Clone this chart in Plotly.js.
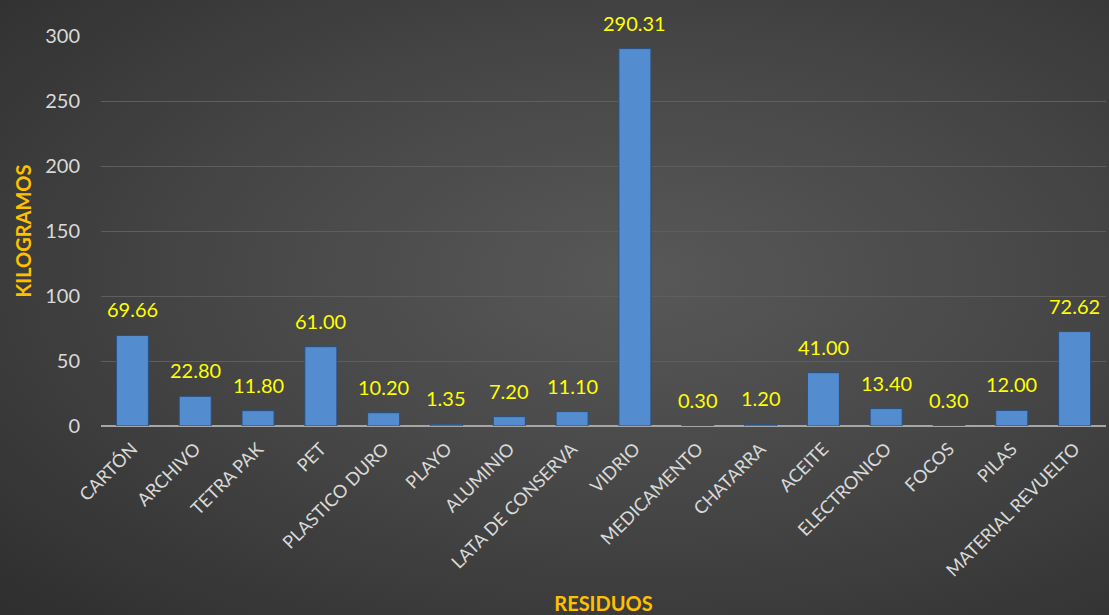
<!DOCTYPE html>
<html><head><meta charset="utf-8">
<script src="https://cdn.plot.ly/plotly-3.0.1.min.js"></script>
<style>
html,body{margin:0;padding:0;}
#chart{width:1109px;height:615px;background:radial-gradient(ellipse at 58% 45%, #585858 0%, #474747 45%, #2e2e2e 100%);}
</style></head>
<body><div id="chart"></div>
<script>
const categories = ["CARTÓN","ARCHIVO","TETRA PAK","PET","PLASTICO DURO","PLAYO","ALUMINIO","LATA DE CONSERVA","VIDRIO","MEDICAMENTO","CHATARRA","ACEITE","ELECTRONICO","FOCOS","PILAS","MATERIAL REVUELTO"];
const kilograms = [69.66,22.80,11.80,61.00,10.20,1.35,7.20,11.10,290.31,0.30,1.20,41.00,13.40,0.30,12.00,72.62];
const yTicks = [0,50,100,150,200,250,300];

const trace = {
  type:'bar', x:categories, y:kilograms,
  marker:{color:'#548cd0', line:{color:'#2b4f7e', width:1}},
  hoverinfo:'none'
};
const labels = categories.map((c,i)=>({
  x:c, y:kilograms[i], xref:'x', yref:'y',
  text:kilograms[i].toFixed(2), showarrow:false,
  yanchor:'bottom', yshift:12,
  font:{color:'#ffff00', size:20, family:'Lato, sans-serif'}
}));
const layout = {
  width:1109, height:615,
  paper_bgcolor:'rgba(0,0,0,0)', plot_bgcolor:'rgba(0,0,0,0)',
  margin:{l:101, r:3, t:36, b:189},
  bargap:0.49,
  showlegend:false,
  annotations:labels,
  font:{family:'Lato, sans-serif', color:'#d9d9d9'},
  xaxis:{
    tickangle:-45, tickfont:{size:18, color:'#d9d9d9'},
    showgrid:false, showline:false, ticks:'', ticklabelstandoff:8,
    title:{text:'RESIDUOS', font:{size:20, color:'#ffc000', family:'Lato, sans-serif', weight:'bold'}, standoff:32}
  },
  yaxis:{
    range:[0,300], tickvals:yTicks, tickfont:{size:20, color:'#d9d9d9'},
    gridcolor:'#5e5e5e', gridwidth:1,
    zeroline:true, zerolinecolor:'#a6a6a6', zerolinewidth:2,
    showline:false, ticks:'', ticklen:0, ticklabelstandoff:20,
    title:{text:'KILOGRAMOS', font:{size:20, color:'#ffc000', family:'Lato, sans-serif', weight:'bold'}, standoff:8}
  }
};
Plotly.newPlot('chart',[trace],layout,{displayModeBar:false, staticPlot:true});
</script></body></html>
